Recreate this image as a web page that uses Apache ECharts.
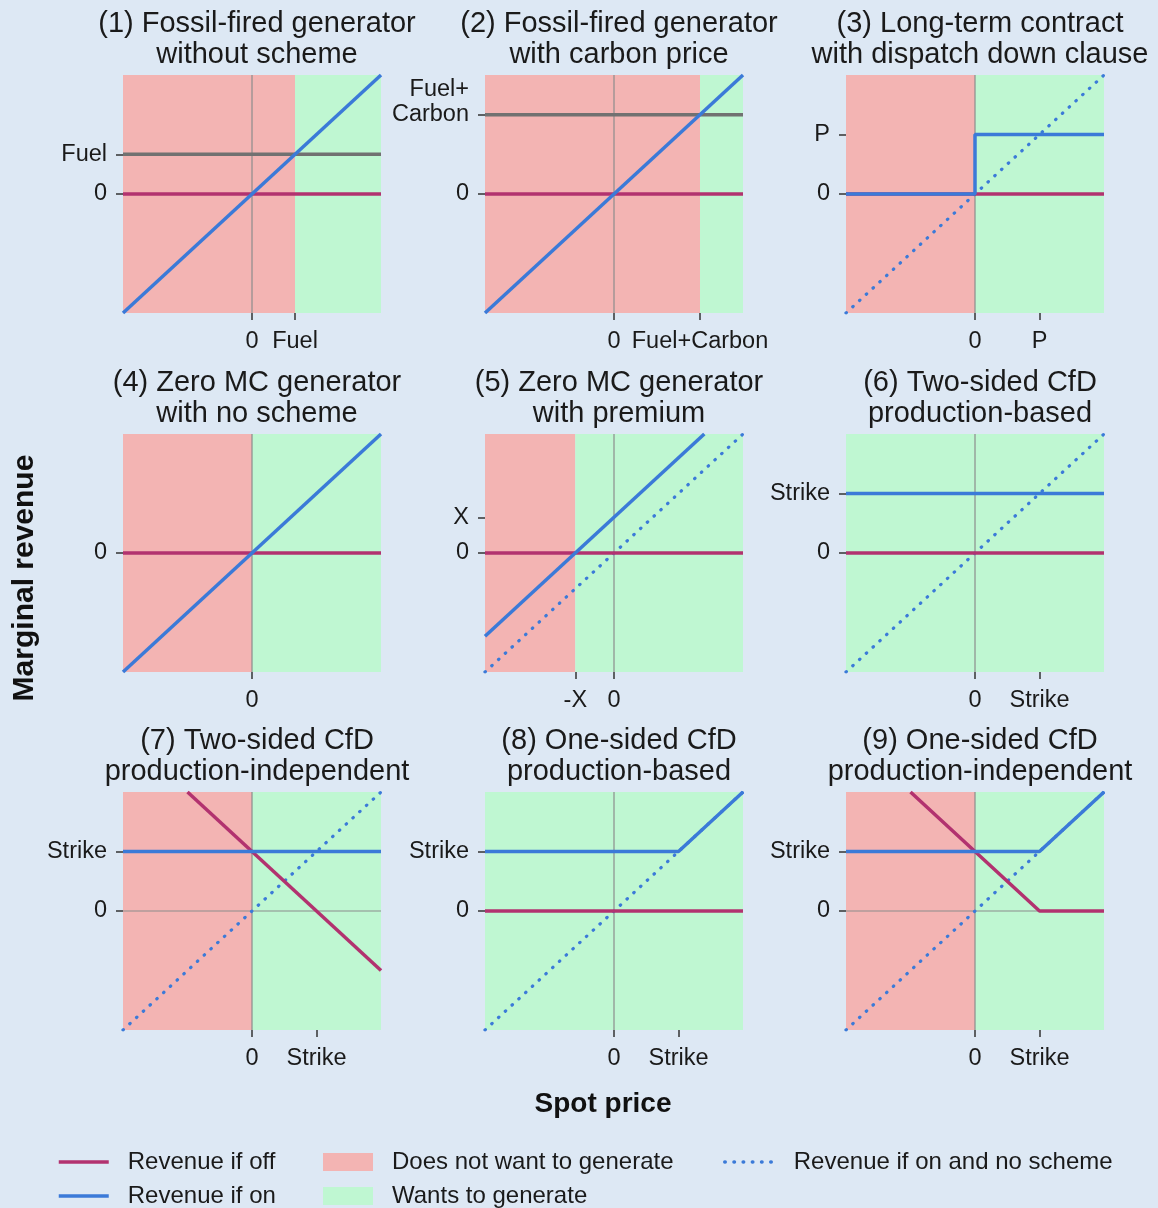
<!DOCTYPE html>
<html>
<head>
<meta charset="utf-8">
<script src="https://cdn.jsdelivr.net/npm/echarts@6/dist/echarts.min.js"></script>
<style>
  html, body { margin: 0; padding: 0; background: #dde8f4; }
  #main { width: 1158px; height: 1208px; }
</style>
</head>
<body>
<div id="main"></div>
<script>
// panel titles
var titles = [
  '(1) Fossil-fired generator\nwithout scheme',
  '(2) Fossil-fired generator\nwith carbon price',
  '(3) Long-term contract\nwith dispatch down clause',
  '(4) Zero MC generator\nwith no scheme',
  '(5) Zero MC generator\nwith premium',
  '(6) Two-sided CfD\nproduction-based',
  '(7) Two-sided CfD\nproduction-independent',
  '(8) One-sided CfD\nproduction-based',
  '(9) One-sided CfD\nproduction-independent'
];

// revenue if off (per panel)
var offLines = [
  [[-3, 0], [3, 0]],
  [[-3, 0], [3, 0]],
  [[-3, 0], [3, 0]],
  [[-3, 0], [3, 0]],
  [[-3, 0], [3, 0]],
  [[-3, 0], [3, 0]],
  [[-1.5, 3], [3, -1.5]],
  [[-3, 0], [3, 0]],
  [[-1.5, 3], [1.5, 0], [3, 0]]
];

// revenue if on (per panel)
var onLines = [
  [[-3, -3], [3, 3]],
  [[-3, -3], [3, 3]],
  [[-3, 0], [0, 0], [0, 1.5], [3, 1.5]],
  [[-3, -3], [3, 3]],
  [[-3, -2.1], [2.1, 3]],
  [[-3, 1.5], [3, 1.5]],
  [[-3, 1.5], [3, 1.5]],
  [[-3, 1.5], [1.5, 1.5], [3, 3]],
  [[-3, 1.5], [1.5, 1.5], [3, 3]]
];

// revenue if on and no scheme (dotted), null = not shown
var noSchemeLines = [
  null, null,
  [[-3, -3], [3, 3]],
  null,
  [[-3, -3], [3, 3]],
  [[-3, -3], [3, 3]],
  [[-3, -3], [3, 3]],
  [[-3, -3], [3, 3]],
  [[-3, -3], [3, 3]]
];

// grey cost line (fuel / fuel+carbon)
var costLines = [
  [[-3, 1], [3, 1]],
  [[-3, 2], [3, 2]],
  null, null, null, null, null, null, null
];

// thin zero axes
var zeroH = [[-3, 0], [3, 0]];
var zeroV = [[0, -3], [0, 3]];

// spot price ranges: does not want to generate / wants to generate
var noGenSpans = [[-3, 1], [-3, 2], [-3, 0], [-3, 0], [-3, -0.9], null, [-3, 0], null, [-3, 0]];
var genSpans = [[1, 3], [2, 3], [0, 3], [0, 3], [-0.9, 3], [-3, 3], [0, 3], [-3, 3], [0, 3]];

// tick values and labels
var xTickVals = [[0, 1], [0, 2], [0, 1.5], [0], [-0.9, 0], [0, 1.5], [0, 1.5], [0, 1.5], [0, 1.5]];
var xTickLabels = [['0', 'Fuel'], ['0', 'Fuel+Carbon'], ['0', 'P'], ['0'], ['-X', '0'],
  ['0', 'Strike'], ['0', 'Strike'], ['0', 'Strike'], ['0', 'Strike']];
var yTickVals = [[0, 1], [0, 2], [0, 1.5], [0], [0, 0.9], [0, 1.5], [0, 1.5], [0, 1.5], [0, 1.5]];
var yTickLabels = [['0', 'Fuel'], ['0', 'Fuel+\nCarbon\n '], ['0', 'P'], ['0'], ['0', 'X'],
  ['0', 'Strike'], ['0', 'Strike'], ['0', 'Strike'], ['0', 'Strike']];

var colLeft = [123, 485, 846];
var rowTop = [75, 434, 792];
var FONT = 'Liberation Sans, Arial, sans-serif';
var RED = '#b2326f', BLUE = '#3b7ad8', GREY = '#717171', AXIS = '#8c8c8c';
var PINK = '#f3b4b3', MINT = '#bff7d2';

var chart = echarts.init(document.getElementById('main'), null, { renderer: 'canvas' });

var grids = [], xAxes = [], yAxes = [], series = [], titleList = [];

function axisFor(i, vals, labels, pad) {
  return {
    gridIndex: i, type: 'value', min: -3, max: 3,
    axisLine: { show: true, onZero: false, lineStyle: { color: 'rgba(0,0,0,0)' } },
    splitLine: { show: false },
    axisTick: { show: true, inside: false, customValues: vals, length: 7,
      lineStyle: { color: '#333', width: 1.5 } },
    axisLabel: {
      customValues: vals, margin: 16, fontFamily: FONT, fontSize: 23.5, color: '#1a1a1a', lineHeight: 25,
      padding: pad,
      formatter: function (v) { return labels[vals.indexOf(v)]; }
    }
  };
}

for (var i = 0; i < 9; i++) {
  var c = i % 3, r = Math.floor(i / 3);
  grids.push({ left: colLeft[c], top: rowTop[r], width: 258, height: 238 });
  titleList.push({
    text: titles[i],
    left: colLeft[c] + 129,
    top: rowTop[r] - 72,
    textAlign: 'center',
    textStyle: { fontFamily: FONT, fontSize: 29, fontWeight: 'normal', color: '#1a1a1a', lineHeight: 31, align: 'center' }
  });
  xAxes.push(axisFor(i, xTickVals[i], xTickLabels[i], [0, 0, 0, 0]));
  yAxes.push(axisFor(i, yTickVals[i], yTickLabels[i], [5, 0, 0, 0]));

  // background regions
  series.push({
    name: 'Does not want to generate', type: 'line', xAxisIndex: i, yAxisIndex: i, data: [],
    color: PINK, z: 1, silent: true,
    markArea: noGenSpans[i] ? { silent: true, itemStyle: { color: PINK, opacity: 1 },
      data: [[{ xAxis: noGenSpans[i][0] }, { xAxis: noGenSpans[i][1] }]] } : undefined
  });
  series.push({
    name: 'Wants to generate', type: 'line', xAxisIndex: i, yAxisIndex: i, data: [],
    color: MINT, z: 1, silent: true,
    markArea: { silent: true, itemStyle: { color: MINT, opacity: 1 },
      data: [[{ xAxis: genSpans[i][0] }, { xAxis: genSpans[i][1] }]] }
  });
  // zero axes
  series.push({ name: 'zeroH', type: 'line', xAxisIndex: i, yAxisIndex: i, data: zeroH,
    symbol: 'none', z: 2, silent: true, lineStyle: { color: AXIS, width: 1.2 } });
  series.push({ name: 'zeroV', type: 'line', xAxisIndex: i, yAxisIndex: i, data: zeroV,
    symbol: 'none', z: 2, silent: true, lineStyle: { color: AXIS, width: 1.2 } });
  if (costLines[i]) {
    series.push({ name: 'Cost', type: 'line', xAxisIndex: i, yAxisIndex: i, data: costLines[i],
      symbol: 'none', z: 4, lineStyle: { color: GREY, width: 3.5 } });
  }
  if (noSchemeLines[i]) {
    series.push({ name: 'Revenue if on and no scheme', type: 'line', xAxisIndex: i, yAxisIndex: i,
      data: noSchemeLines[i], symbol: 'none', z: 3, color: BLUE,
      lineStyle: { color: BLUE, width: 3.2, type: [0.5, 8.7], cap: 'round' } });
  }
  series.push({ name: 'Revenue if off', type: 'line', xAxisIndex: i, yAxisIndex: i, data: offLines[i],
    symbol: 'none', z: 4, color: RED, lineStyle: { color: RED, width: 3.5 } });
  series.push({ name: 'Revenue if on', type: 'line', xAxisIndex: i, yAxisIndex: i, data: onLines[i],
    symbol: 'none', z: 5, color: BLUE, lineStyle: { color: BLUE, width: 3.5 } });
}

function legendItem(name, left, top, fill) {
  return {
    left: left, top: top, padding: 0, itemWidth: 50, itemHeight: 18, selectedMode: false,
    itemStyle: fill ? { color: fill, opacity: 1 } : { opacity: 0 },
    lineStyle: { width: 3.5 },
    textStyle: { fontFamily: FONT, fontSize: 24, color: '#1a1a1a', padding: [0, 0, 0, 14] },
    data: [fill ? { name: name, icon: 'rect' } : name]
  };
}

var option = {
  backgroundColor: '#dde8f4',
  animation: false,
  title: titleList,
  grid: grids,
  xAxis: xAxes,
  yAxis: yAxes,
  series: series,
  legend: [
    legendItem('Revenue if off', 57, 1150, null),
    legendItem('Revenue if on', 57, 1184, null),
    legendItem('Does not want to generate', 323, 1150, PINK),
    legendItem('Wants to generate', 323, 1184, MINT),
    legendItem('Revenue if on and no scheme', 723, 1150, null)
  ],
  graphic: [
    { type: 'text', x: 25, y: 578, rotation: Math.PI / 2,
      style: { text: 'Marginal revenue', fontFamily: FONT, fontSize: 30, fontWeight: 'bold',
        fill: '#111', align: 'center', verticalAlign: 'middle' } },
    { type: 'text', x: 603, y: 1104,
      style: { text: 'Spot price', fontFamily: FONT, fontSize: 28, fontWeight: 'bold',
        fill: '#111', align: 'center', verticalAlign: 'middle' } }
  ]
};

chart.setOption(option);
</script>
</body>
</html>
